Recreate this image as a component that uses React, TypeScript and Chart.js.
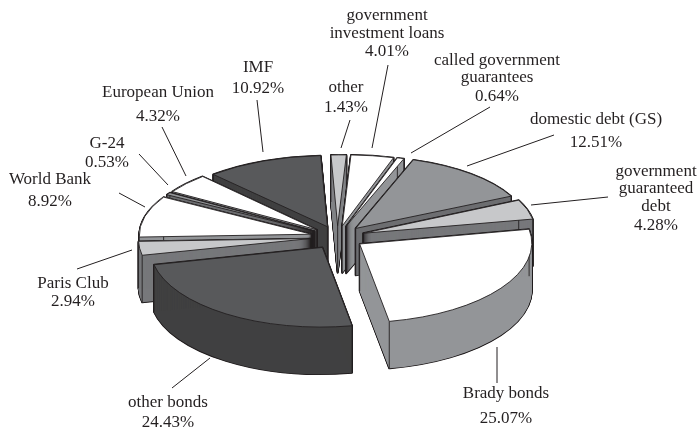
import React, { useEffect, useRef } from "react";
import { Chart, registerables } from "chart.js";

Chart.register(...registerables);

const categories = [
  "other",
  "government investment loans",
  "called government guarantees",
  "domestic debt (GS)",
  "government guaranteed debt",
  "Brady bonds",
  "other bonds",
  "Paris Club",
  "World Bank",
  "G-24",
  "European Union",
  "IMF",
];
const shares = [1.43, 4.01, 0.64, 12.51, 4.28, 25.07, 24.43, 2.94, 8.92, 0.53, 4.32, 10.92];
const shareLabels = ["1.43%", "4.01%", "0.64%", "12.51%", "4.28%", "25.07%", "24.43%", "2.94%", "8.92%", "0.53%", "4.32%", "10.92%"];
const nameLines = [
  ["other"],
  ["government", "investment loans"],
  ["called government", "guarantees"],
  ["domestic debt (GS)"],
  ["government", "guaranteed", "debt"],
  ["Brady bonds"],
  ["other bonds"],
  ["Paris Club"],
  ["World Bank"],
  ["G-24"],
  ["European Union"],
  ["IMF"],
];

const W = "#ffffff";
const L = "#c7c8ca";
const M = "#939598";
const D = "#58595b";
const topColors = [L, W, W, M, L, W, D, L, W, M, W, D];
const sideColors = ["#808285", M, M, "#6d6e71", "#77787b", M, "#404041", "#77787b", M, "#6d6e71", M, "#404041"];

// layout of the projected pie
const VIEW = { cx: 337.5, cy: 237, tilt: 0.44, persp: 0.028, roll: -0.025, shear: 0.095, depth: 47, explode: 27, radius: 172 };
const INK = "#231f20";

// text centre x and each line's baseline y; leader line ends
const labelLayout = [
  { x: 346, ys: [92, 112], lead: [350, 120, 341, 148] },
  { x: 387, ys: [20, 38, 56], lead: [388, 65, 372, 148] },
  { x: 497, ys: [65, 82, 101], lead: [490, 107, 411, 153] },
  { x: 596, ys: [124, 147], lead: [554, 135, 467, 166] },
  { x: 656, ys: [176, 193, 211, 230], lead: [608, 197, 531, 205] },
  { x: 506, ys: [398, 423], lead: [497, 383, 497, 347] },
  { x: 168, ys: [407, 427], lead: [172, 388, 210, 358] },
  { x: 73, ys: [288, 306], lead: [77, 269, 132, 250] },
  { x: 50, ys: [184, 206], lead: [119, 193, 145, 207] },
  { x: 107, ys: [148, 167], lead: [139, 154, 168, 185] },
  { x: 158, ys: [97, 121], lead: [162, 127, 186, 176] },
  { x: 258, ys: [72, 93], lead: [257, 100, 263, 152] },
];

function applyView(ctx: CanvasRenderingContext2D, arc: any, d: number) {
  const mid = (arc.startAngle + arc.endAngle) / 2;
  const ex = Math.cos(mid) * VIEW.explode;
  const ey = Math.sin(mid) * VIEW.explode;
  const k = VIEW.tilt + VIEW.persp * Math.sin(mid);
  ctx.translate(VIEW.cx, VIEW.cy + d);
  ctx.transform(1, VIEW.roll, VIEW.shear * k, k, 0, 0);
  ctx.translate(ex - arc.x, ey - arc.y);
}

function wedgePath(ctx: CanvasRenderingContext2D, arc: any, d: number) {
  ctx.save();
  applyView(ctx, arc, d);
  ctx.beginPath();
  ctx.moveTo(arc.x, arc.y);
  ctx.arc(arc.x, arc.y, arc.outerRadius, arc.startAngle, arc.endAngle);
  ctx.closePath();
  ctx.restore();
}

function fillArc(ctx: CanvasRenderingContext2D, arc: any, d: number, color: string) {
  const saved = arc.options;
  arc.options = {
    backgroundColor: color,
    borderColor: color,
    borderWidth: 0,
    borderAlign: "center",
    borderJoinStyle: "miter",
    borderDash: [],
    borderDashOffset: 0,
    borderRadius: 0,
    offset: 0,
    spacing: 0,
    circular: true,
    selfJoin: false,
  };
  ctx.save();
  applyView(ctx, arc, d);
  arc.draw(ctx);
  ctx.restore();
  arc.options = saved;
}

function verticalEdge(ctx: CanvasRenderingContext2D, arc: any, angle: number | null) {
  const r = angle === null ? 0 : arc.outerRadius;
  const a = angle === null ? 0 : angle;
  const px = arc.x + Math.cos(a) * r;
  const py = arc.y + Math.sin(a) * r;
  ctx.save();
  applyView(ctx, arc, 0);
  const p0 = ctx.getTransform().transformPoint({ x: px, y: py });
  ctx.restore();
  ctx.beginPath();
  ctx.moveTo(p0.x, p0.y);
  ctx.lineTo(p0.x, p0.y + VIEW.depth);
  ctx.stroke();
}

const pie3d = {
  id: "pie3d",
  beforeDatasetsDraw(chart: any) {
    const ctx: CanvasRenderingContext2D = chart.ctx;
    const arcs: any[] = chart.getDatasetMeta(0).data;
    const order = arcs
      .map((arc, i) => ({ arc, i, key: Math.sin((arc.startAngle + arc.endAngle) / 2) }))
      .sort((a, b) => a.key - b.key);
    ctx.save();
    ctx.lineJoin = "round";
    for (const { arc, i } of order) {
      ctx.strokeStyle = INK;
      ctx.lineWidth = 1.8;
      for (let d = VIEW.depth; d >= 0; d -= 0.5) {
        wedgePath(ctx, arc, d);
        ctx.stroke();
      }
      for (let d = 0; d <= VIEW.depth; d += 0.5) fillArc(ctx, arc, d, sideColors[i]);
      ctx.lineWidth = 0.9;
      verticalEdge(ctx, arc, arc.startAngle);
      verticalEdge(ctx, arc, arc.endAngle);
      verticalEdge(ctx, arc, null);
      fillArc(ctx, arc, 0, topColors[i]);
      wedgePath(ctx, arc, 0);
      ctx.lineWidth = 0.9;
      ctx.stroke();
    }
    ctx.restore();
    return false;
  },
  afterDraw(chart: any) {
    const ctx: CanvasRenderingContext2D = chart.ctx;
    ctx.save();
    ctx.font = '17px "Liberation Serif"';
    ctx.textAlign = "center";
    ctx.textBaseline = "alphabetic";
    ctx.fillStyle = INK;
    ctx.strokeStyle = INK;
    ctx.lineWidth = 1;
    categories.forEach((_, i) => {
      const at = labelLayout[i];
      const lines = [...nameLines[i], shareLabels[i]];
      lines.forEach((t, j) => ctx.fillText(t, at.x, at.ys[j]));
      ctx.beginPath();
      ctx.moveTo(at.lead[0], at.lead[1]);
      ctx.lineTo(at.lead[2], at.lead[3]);
      ctx.stroke();
    });
    ctx.restore();
  },
};

export default function App() {
  const ref = useRef<HTMLCanvasElement>(null);
  useEffect(() => {
    document.body.style.margin = "0";
    const chart = new Chart(ref.current as HTMLCanvasElement, {
      type: "pie",
      data: {
        labels: categories,
        datasets: [{ data: shares, backgroundColor: topColors, borderWidth: 0 }],
      },
      options: {
        animation: false,
        responsive: false,
        radius: VIEW.radius,
        plugins: { legend: { display: false }, tooltip: { enabled: false } },
      } as any,
      plugins: [pie3d as any],
    });
    return () => chart.destroy();
  }, []);
  return <canvas ref={ref} width={698} height={428} style={{ display: "block" }} />;
}
